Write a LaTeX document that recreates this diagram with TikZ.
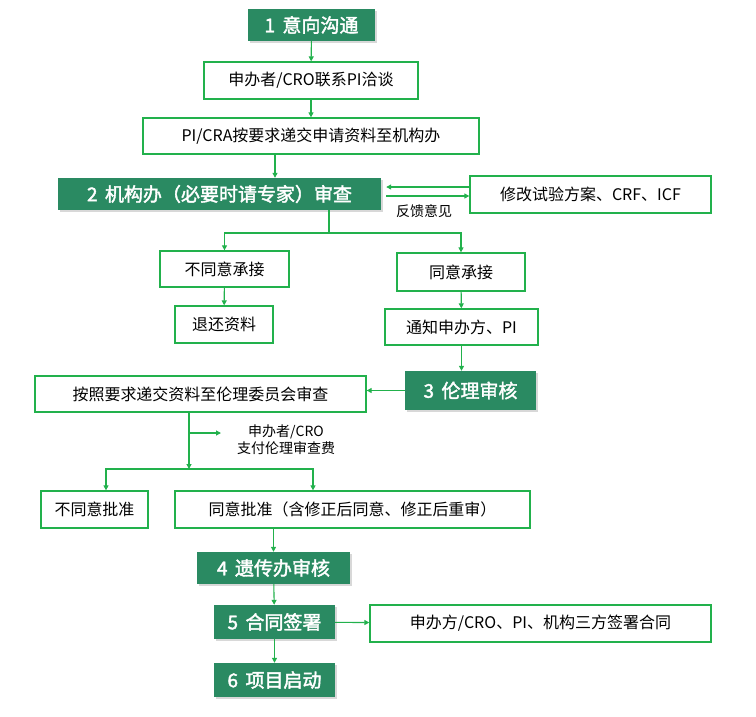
\documentclass[tikz,border=0pt]{standalone}
\usepackage{fontspec}
\setmainfont{Noto Sans CJK SC}[AutoFakeBold=2]
\usetikzlibrary{shadows,arrows.meta}
\definecolor{dgreen}{HTML}{2A8A62}
\definecolor{lgreen}{HTML}{22B14C}
\tikzset{
 box/.style={draw=lgreen, line width=1.3pt, fill=white, inner sep=0pt, font=\fontsize{16}{18}\selectfont},
 stepbox/.style={fill=dgreen, text=white, inner sep=0pt, font=\fontsize{19}{21}\selectfont\bfseries,
   drop shadow={fill=black!30, shadow xshift=2pt, shadow yshift=-2pt}},
 arr/.style={draw=lgreen, line width=1.1pt, -{Triangle[length=5pt,width=5pt]}},
 ln/.style={draw=lgreen, line width=1.1pt},
 lbl/.style={inner sep=0pt, font=\fontsize{14}{17}\selectfont, align=center}
}
\begin{document}
\begin{tikzpicture}[x=1pt,y=-1pt]
\useasboundingbox (0,0) rectangle (756,716);
\node[stepbox, minimum width=127pt, minimum height=32pt] (s1) at (311.5,25) {1\, 意向沟通};
\node[box, minimum width=214pt, minimum height=37pt] (n2) at (311,80.5) {申办者/CRO联系PI洽谈};
\node[box, minimum width=336pt, minimum height=36pt] (n3) at (311,136) {PI/CRA按要求递交申请资料至机构办};
\node[stepbox, minimum width=323pt, minimum height=32pt] (s2) at (219.5,194) {2\, 机构办（必要时请专家）审查};
\node[box, minimum width=241pt, minimum height=37pt] (mod) at (590.5,194.5) {修改试验方案、CRF、ICF};
\node[lbl] (fb) at (424,211) {反馈意见};
\node[box, minimum width=129pt, minimum height=36pt] (na) at (224.5,269) {不同意承接};
\node[box, minimum width=98pt, minimum height=37pt] (nb) at (224,324.5) {退还资料};
\node[box, minimum width=128pt, minimum height=38pt] (ya) at (461,272) {同意承接};
\node[box, minimum width=153pt, minimum height=36pt] (yb) at (461.5,327) {通知申办方、PI};
\node[stepbox, minimum width=131pt, minimum height=39pt] (s3) at (470.5,390.5) {3\, 伦理审核};
\node[box, minimum width=331pt, minimum height=36pt] (sub) at (200.5,394) {按照要求递交资料至伦理委员会审查};
\node[lbl] (fee) at (286,440) {申办者/CRO\\支付伦理审查费};
\node[box, minimum width=107pt, minimum height=37pt] (np) at (94.5,509.5) {不同意批准};
\node[box, minimum width=355pt, minimum height=37pt] (yp) at (352.5,509.5) {同意批准（含修正后同意、修正后重审）};
\node[stepbox, minimum width=153pt, minimum height=32pt] (s4) at (273.5,568) {4\, 遗传办审核};
\node[stepbox, minimum width=121pt, minimum height=34pt] (s5) at (274.5,622) {5\, 合同签署};
\node[box, minimum width=341pt, minimum height=37pt] (sign) at (540.5,623.5) {申办方/CRO、PI、机构三方签署合同};
\node[stepbox, minimum width=121pt, minimum height=34pt] (s6) at (274.5,680) {6\, 项目启动};
\coordinate (sp) at (329,233);
\coordinate (sp2) at (189,469);
\coordinate (feeA) at (189,433);
\coordinate (feeB) at (221,433);
\draw[arr] (s1) -- (n2);
\draw[arr] (n2) -- (n3);
\draw[arr] ([xshift=-36pt]n3.south) -- ([xshift=-36pt]n3.south |- s2.north);
\draw[arr] ([yshift=7.5pt]mod.west) -- ([yshift=7.5pt,xshift=5pt]mod.west -| s2.east);
\draw[arr] ([yshift=-1.5pt,xshift=5pt]mod.west -| s2.east) -- ([yshift=-1.5pt]mod.west);
\draw[ln] (s2.south -| sp) -- (sp);
\draw[arr] (sp) -| (na.north);
\draw[arr] (sp) -| (ya.north);
\draw[arr] (na) -- (nb);
\draw[arr] (ya) -- (yb);
\draw[arr] (yb.south) -- (yb.south |- s3.north);
\draw[arr] (s3.west) -- (s3.west -| sub.east);
\draw[arr] (sub.south -| sp2) -- (sp2);
\draw[arr] (feeA) -- (feeB);
\draw[arr] (sp2) -| ([xshift=11.5pt]np.north);
\draw[arr] (sp2) -| ([xshift=-39.5pt]yp.north);
\draw[arr] (yp.south -| s4.north) -- (s4.north);
\draw[arr] (s4) -- (s5);
\draw[arr] (s5) -- (s6);
\draw[arr] (s5) -- (sign);
\end{tikzpicture}
\end{document}
